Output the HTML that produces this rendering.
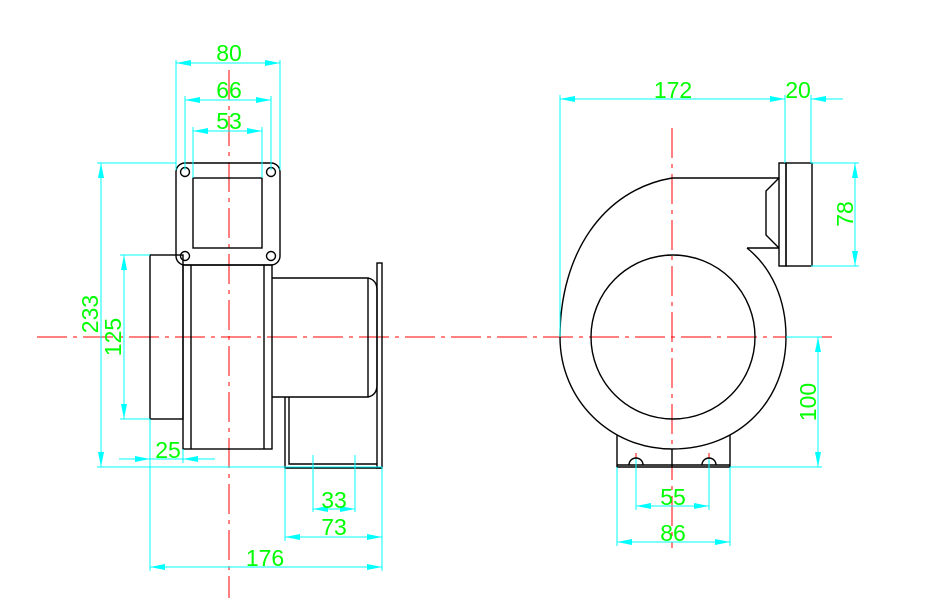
<!DOCTYPE html>
<html><head><meta charset="utf-8"><style>html,body{margin:0;padding:0;background:#fff}svg{display:block}</style></head>
<body>
<svg width="936" height="612" viewBox="0 0 936 612" xmlns="http://www.w3.org/2000/svg">
<defs>
<marker id="a" viewBox="0 0 15 6" refX="15" refY="3" markerWidth="15" markerHeight="6" markerUnits="userSpaceOnUse" orient="auto-start-reverse"><path d="M0,0 L15,3 L0,6 z" fill="#00ffff"/></marker>
</defs>
<g stroke="#ff0000" stroke-width="1" fill="none" stroke-dasharray="30,6,4,6">
<line x1="37" y1="337" x2="832" y2="337"/>
<line x1="229" y1="70" x2="229" y2="598"/>
<line x1="672" y1="128" x2="672" y2="548"/>
<line x1="636" y1="453" x2="636" y2="470"/>
<line x1="709" y1="453" x2="709" y2="470"/>
</g>
<g stroke="#000" stroke-width="1.4" fill="none">
<rect x="176" y="163" width="104" height="102" rx="9"/>
<rect x="193" y="178" width="69" height="70"/>
<circle cx="185" cy="172" r="4.5"/><circle cx="271" cy="172" r="4.5"/>
<circle cx="185" cy="256" r="4.5"/><circle cx="271" cy="256" r="4.5"/>
<rect x="150" y="255" width="33" height="164"/>
<rect x="183" y="265" width="89" height="184"/>
<line x1="191" y1="265" x2="191" y2="449"/>
<line x1="264" y1="265" x2="264" y2="449"/>
<path d="M272,278 L368,278 L368,397 L272,397"/>
<path d="M368,278 Q377,280 377,290 L377,385 Q377,395 368,397"/>
<rect x="377" y="263" width="5" height="205"/>
<path d="M285,397 L285,468 L382,468"/>
<path d="M289,397 L289,464 L377,464"/>
</g>
<g stroke="#000" stroke-width="1.4" fill="none">
<circle cx="673" cy="337" r="82"/>
<path d="M672,178 C602,190 560,255 560,337 C560,400 610,449 672,449 C740,449 786,400 786,337 C786,300 772,268 747,248"/>
<line x1="672" y1="178" x2="779" y2="178"/>
<line x1="747" y1="248" x2="779" y2="248"/>
<path d="M779,178 L766,191 L766,235 L779,248"/>
<rect x="779" y="163" width="7" height="103"/>
<rect x="786" y="163" width="26" height="103"/>
<path d="M617,435 L617,467 L730,467 L730,435"/>
<line x1="617" y1="465" x2="730" y2="465"/>
<line x1="672" y1="449" x2="672" y2="467"/>
<path d="M629,465 A7,7 0 0 1 643,465"/>
<path d="M702,465 A7,7 0 0 1 716,465"/>
</g>
<g stroke="#00ffff" stroke-width="1" fill="none">
<line x1="97" y1="163" x2="176" y2="163"/>
<line x1="97" y1="467" x2="382" y2="467"/>
<line x1="120" y1="255" x2="150" y2="255"/>
<line x1="120" y1="419" x2="150" y2="419"/>
<line x1="176" y1="60" x2="176" y2="170"/>
<line x1="280" y1="60" x2="280" y2="170"/>
<line x1="185" y1="96" x2="185" y2="170"/>
<line x1="271" y1="96" x2="271" y2="170"/>
<line x1="193" y1="127" x2="193" y2="178"/>
<line x1="262" y1="127" x2="262" y2="178"/>
<line x1="150" y1="419" x2="150" y2="571"/>
<line x1="183" y1="449" x2="183" y2="463"/>
<line x1="382" y1="467" x2="382" y2="571"/>
<line x1="285" y1="468" x2="285" y2="541"/>
<line x1="313" y1="455" x2="313" y2="512"/>
<line x1="355" y1="455" x2="355" y2="512"/>
<line x1="101" y1="163" x2="101" y2="467" marker-start="url(#a)" marker-end="url(#a)"/>
<line x1="124" y1="255" x2="124" y2="419" marker-start="url(#a)" marker-end="url(#a)"/>
<line x1="176" y1="63" x2="280" y2="63" marker-start="url(#a)" marker-end="url(#a)"/>
<line x1="185" y1="100" x2="271" y2="100" marker-start="url(#a)" marker-end="url(#a)"/>
<line x1="193" y1="131" x2="262" y2="131" marker-start="url(#a)" marker-end="url(#a)"/>
<line x1="119" y1="459" x2="150" y2="459" marker-end="url(#a)"/>
<line x1="150" y1="459" x2="183" y2="459"/>
<line x1="215" y1="459" x2="183" y2="459" marker-end="url(#a)"/>
<line x1="313" y1="509" x2="355" y2="509" marker-start="url(#a)" marker-end="url(#a)"/>
<line x1="285" y1="537" x2="382" y2="537" marker-start="url(#a)" marker-end="url(#a)"/>
<line x1="150" y1="567" x2="382" y2="567" marker-start="url(#a)" marker-end="url(#a)"/>
<line x1="560" y1="95" x2="560" y2="337"/>
<line x1="785" y1="95" x2="785" y2="163"/>
<line x1="811" y1="95" x2="811" y2="163"/>
<line x1="811" y1="163" x2="859" y2="163"/>
<line x1="811" y1="266" x2="859" y2="266"/>
<line x1="786" y1="337" x2="822" y2="337"/>
<line x1="730" y1="467" x2="822" y2="467"/>
<line x1="617" y1="467" x2="617" y2="546"/>
<line x1="730" y1="467" x2="730" y2="546"/>
<line x1="636" y1="459" x2="636" y2="510"/>
<line x1="709" y1="459" x2="709" y2="510"/>
<line x1="560" y1="99" x2="785" y2="99" marker-start="url(#a)" marker-end="url(#a)"/>
<line x1="843" y1="99" x2="811" y2="99" marker-end="url(#a)"/>
<line x1="855" y1="163" x2="855" y2="266" marker-start="url(#a)" marker-end="url(#a)"/>
<line x1="818" y1="337" x2="818" y2="467" marker-start="url(#a)" marker-end="url(#a)"/>
<line x1="636" y1="506" x2="709" y2="506" marker-start="url(#a)" marker-end="url(#a)"/>
<line x1="617" y1="542" x2="730" y2="542" marker-start="url(#a)" marker-end="url(#a)"/>
</g>
<g fill="#00ff00" font-family="Liberation Sans, sans-serif" font-size="23" text-anchor="middle">
<text x="229" y="61">80</text>
<text x="229" y="98">66</text>
<text x="229" y="129">53</text>
<text x="168" y="458">25</text>
<text x="334" y="508">33</text>
<text x="334" y="535">73</text>
<text x="265" y="566">176</text>
<text x="673" y="98">172</text>
<text x="798" y="98">20</text>
<text x="673" y="505">55</text>
<text x="673" y="541">86</text>
<text transform="translate(98,314) rotate(-90)">233</text>
<text transform="translate(121,337) rotate(-90)">125</text>
<text transform="translate(853,214) rotate(-90)">78</text>
<text transform="translate(816,402) rotate(-90)">100</text>
</g>
</svg>
</body></html>
